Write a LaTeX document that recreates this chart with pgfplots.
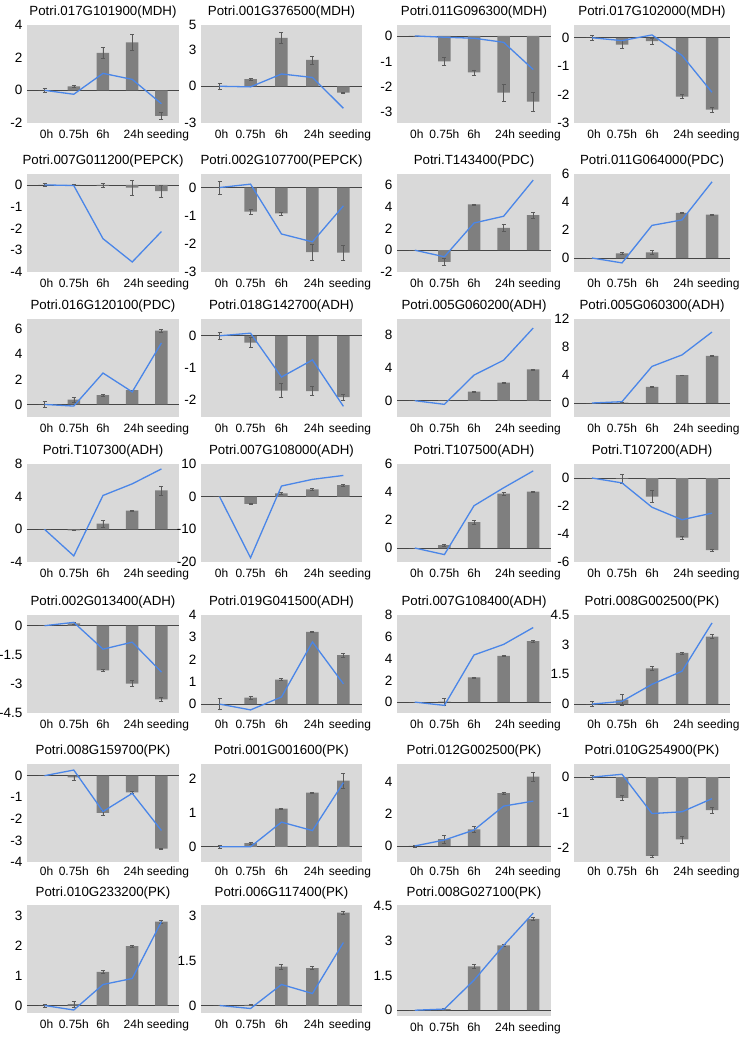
\documentclass[border=0pt]{standalone}
\usepackage{fontspec}
\setmainfont{Liberation Sans}
\usepackage{pgfplots}
\usepackage{pgfplotstable}
\pgfplotsset{compat=1.18}
\definecolor{bg}{RGB}{217,217,217}
\definecolor{barc}{RGB}{127,127,127}
\definecolor{lnc}{RGB}{74,134,232}
\definecolor{zl}{RGB}{70,70,70}
\definecolor{erc}{RGB}{90,90,90}

% columns: x y(bar) e(error) l(line)
\pgfplotstableread{
x y e l
0 0 0.1 0
1 0.24 0.05 -0.24
2 2.3 0.33 1.04
3 2.94 0.49 0.67
4 -1.57 0.22 -0.82
}\dA
\pgfplotstableread{
x y e l
0 0 0.25 0
1 0.58 0.05 -0.05
2 3.95 0.45 1.0
3 2.15 0.33 0.72
4 -0.52 0.05 -1.8
}\dB
\pgfplotstableread{
x y e l
0 0 0 0
1 -1.0 0.16 -0.05
2 -1.43 0.1 -0.09
3 -2.23 0.32 -0.25
4 -2.58 0.37 -1.32
}\dC
\pgfplotstableread{
x y e l
0 0 0.09 0
1 -0.24 0.14 -0.1
2 -0.12 0.12 0.1
3 -2.07 0.07 -0.62
4 -2.53 0.08 -1.92
}\dD
\pgfplotstableread{
x y e l
0 0 0.08 0
1 -0.01 0.02 -0.03
2 -0.03 0.1 -2.47
3 -0.13 0.35 -3.54
4 -0.29 0.28 -2.14
}\dE
\pgfplotstableread{
x y e l
0 0 0.23 0
1 -0.86 0.08 0.12
2 -0.92 0.05 -1.65
3 -2.29 0.28 -1.93
4 -2.31 0.26 -0.65
}\dF
\pgfplotstableread{
x y e l
0 0 0 0
1 -1.07 0.3 -0.6
2 4.21 0.05 2.5
3 2.05 0.33 3.12
4 3.23 0.25 6.44
}\dG
\pgfplotstableread{
x y e l
0 0 0 0
1 0.33 0.05 -0.35
2 0.4 0.12 2.33
3 3.23 0.04 2.72
4 3.09 0.05 5.44
}\dH
\pgfplotstableread{
x y e l
0 0 0.25 0
1 0.39 0.2 -0.13
2 0.74 0.06 2.5
3 1.13 0.03 1.0
4 5.87 0.1 4.9
}\dI
\pgfplotstableread{
x y e l
0 0 0.1 0
1 -0.21 0.15 0.08
2 -1.7 0.22 -1.28
3 -1.72 0.14 -0.75
4 -1.9 0.09 -2.19
}\dJ
\pgfplotstableread{
x y e l
0 0 0 0
1 0.05 0.05 -0.45
2 1.1 0.05 3.13
3 2.2 0.1 4.96
4 3.82 0.08 8.9
}\dK
\pgfplotstableread{
x y e l
0 0 0 0
1 0.05 0.03 0.19
2 2.29 0.1 5.23
3 3.97 0.05 6.87
4 6.73 0.08 10.14
}\dL
\pgfplotstableread{
x y e l
0 0 0 0
1 -0.12 0.05 -3.25
2 0.69 0.45 4.15
3 2.28 0.05 5.57
4 4.76 0.55 7.4
}\dM
\pgfplotstableread{
x y e l
0 0 0 0
1 -2.24 0.2 -18.7
2 1.0 0.3 3.26
3 2.24 0.3 5.3
4 3.56 0.25 6.5
}\dN
\pgfplotstableread{
x y e l
0 0 0 0
1 0.2 0.05 -0.47
2 1.84 0.15 3.02
3 3.88 0.1 4.3
4 4.02 0.04 5.51
}\dO
\pgfplotstableread{
x y e l
0 0 0 0
1 -0.05 0.35 -0.35
2 -1.33 0.43 -2.09
3 -4.26 0.1 -2.98
4 -5.16 0.1 -2.51
}\dP
\pgfplotstableread{
x y e l
0 0 0 0
1 0.12 0.04 0.17
2 -2.3 0.06 -1.21
3 -2.98 0.15 -0.85
4 -3.8 0.1 -2.39
}\dQ
\pgfplotstableread{
x y e l
0 0 0.25 0
1 0.29 0.08 -0.26
2 1.1 0.05 0.32
3 3.24 0.03 2.79
4 2.2 0.1 0.91
}\dR
\pgfplotstableread{
x y e l
0 0 0 0
1 0.05 0.3 -0.3
2 2.27 0.05 4.33
3 4.24 0.05 5.3
4 5.6 0.1 6.85
}\dS
\pgfplotstableread{
x y e l
0 0 0.12 0
1 0.22 0.27 0.14
2 1.81 0.1 1.0
3 2.59 0.05 1.66
4 3.41 0.1 4.1
}\dT
\pgfplotstableread{
x y e l
0 0 0 0
1 -0.08 0.12 0.26
2 -1.72 0.1 -1.66
3 -0.77 0.05 -0.82
4 -3.38 0.02 -2.54
}\dU
\pgfplotstableread{
x y e l
0 0 0.05 0
1 0.11 0.02 0
2 1.13 0.02 0.73
3 1.6 0.02 0.48
4 1.96 0.22 1.9
}\dV
\pgfplotstableread{
x y e l
0 0 0.07 0
1 0.43 0.25 0.37
2 1.03 0.2 0.99
3 3.29 0.05 2.48
4 4.31 0.27 2.79
}\dW
\pgfplotstableread{
x y e l
0 0 0.05 0
1 -0.59 0.07 0.08
2 -2.23 0.03 -1.03
3 -1.76 0.1 -0.98
4 -0.93 0.08 -0.61
}\dX
\pgfplotstableread{
x y e l
0 0 0.05 0
1 0.05 0.1 -0.15
2 1.12 0.05 0.7
3 1.98 0.03 0.9
4 2.8 0.05 2.8
}\dY
\pgfplotstableread{
x y e l
0 0 0 0
1 0.02 0.02 -0.1
2 1.3 0.08 0.7
3 1.25 0.05 0.4
4 3.1 0.05 2.1
}\dZ
\pgfplotstableread{
x y e l
0 0 0 0
1 0.05 0.03 0.05
2 1.9 0.08 1.3
3 2.8 0.05 2.8
4 3.95 0.08 4.2
}\dAA

\pgfplotsset{
 panel/.style={
  scale only axis, anchor=north west,
  height=98pt,
  axis background/.style={fill=bg},
  axis line style={draw=none},
  major tick length=0pt,
  xmin=-0.6, xmax=4.6,
  xtick={0,1,2,3,4},
  xticklabels={\hspace*{4pt}0h,0.75h,6h,\hspace*{3pt}24h,\hspace*{13pt}seeding},
  xticklabel style={font=\fontsize{12}{14}\selectfont, yshift=-3pt},
  yticklabel style={font=\fontsize{13.5}{15}\selectfont, xshift=-1pt},
  /pgf/number format/assume math mode=true,
  title style={font=\fontsize{13.3}{15}\selectfont, yshift=-3pt},
  extra y ticks={0}, extra y tick labels={},
  extra y tick style={grid=major, major grid style={zl, line width=0.7pt}},
 },
 c1/.style={width=152pt},
 c2/.style={width=161pt},
 c3/.style={width=154pt},
 c4/.style={width=156pt},
 r6/.style={xticklabel style={yshift=2pt}},
 r7/.style={title style={yshift=-1pt}},
}
\newcommand{\series}[1]{%
  \addplot[ybar, bar width=12.5pt, fill=barc, draw=none,
    error bars/.cd, y dir=both, y explicit,
    error bar style={erc, line width=0.5pt},
    error mark options={rotate=90, erc, mark size=2pt, line width=0.5pt}]
    table[x=x, y=y, y error=e] {#1};
  \addplot[lnc, line width=1.3pt, mark=none] table[x=x, y=l] {#1};
}

\begin{document}
\begin{tikzpicture}
\useasboundingbox (0,0) rectangle (743pt,-1039pt);
% Row 1
\begin{axis}[panel, c1, at={(27pt,-25pt)}, title={Potri.017G101900(MDH)}, ymin=-2, ymax=4, ytick={-2,0,2,4}]
\series{\dA}
\end{axis}
\begin{axis}[panel, c2, at={(201pt,-25pt)}, title={Potri.001G376500(MDH)}, ymin=-3, ymax=5, ytick={-3,0,3,5}]
\series{\dB}
\end{axis}
\begin{axis}[panel, c3, at={(397pt,-25pt)}, title={Potri.011G096300(MDH)}, ymin=-3.42, ymax=0.43, ytick={-3,-2,-1,0}]
\series{\dC}
\end{axis}
\begin{axis}[panel, c4, at={(574pt,-25pt)}, title={Potri.017G102000(MDH)}, ymin=-3, ymax=0.45, ytick={-3,-2,-1,0}]
\series{\dD}
\end{axis}
% Row 2
\begin{axis}[panel, c1, at={(27pt,-174pt)}, title={Potri.007G011200(PEPCK)}, ymin=-4, ymax=0.5, ytick={-4,-3,-2,-1,0}]
\series{\dE}
\end{axis}
\begin{axis}[panel, c2, at={(201pt,-174pt)}, title={Potri.002G107700(PEPCK)}, ymin=-3, ymax=0.48, ytick={-3,-2,-1,0}]
\series{\dF}
\end{axis}
\begin{axis}[panel, c3, at={(397pt,-174pt)}, title={Potri.T143400(PDC)}, ymin=-2, ymax=7, ytick={-2,0,2,4,6}]
\series{\dG}
\end{axis}
\begin{axis}[panel, c4, at={(574pt,-174pt)}, title={Potri.011G064000(PDC)}, ymin=-1, ymax=6, ytick={0,2,4,6}]
\series{\dH}
\end{axis}
% Row 3
\begin{axis}[panel, c1, at={(27pt,-319pt)}, title={Potri.016G120100(PDC)}, ymin=-1, ymax=6.8, ytick={0,2,4,6}]
\series{\dI}
\end{axis}
\begin{axis}[panel, c2, at={(201pt,-319pt)}, title={Potri.018G142700(ADH)}, ymin=-2.52, ymax=0.52, ytick={-2,-1,0}]
\series{\dJ}
\end{axis}
\begin{axis}[panel, c3, at={(397pt,-319pt)}, title={Potri.005G060200(ADH)}, ymin=-2, ymax=10, ytick={0,4,8}]
\series{\dK}
\end{axis}
\begin{axis}[panel, c4, at={(574pt,-319pt)}, title={Potri.005G060300(ADH)}, ymin=-2, ymax=12, ytick={0,4,8,12}]
\series{\dL}
\end{axis}
% Row 4
\begin{axis}[panel, c1, at={(27pt,-464pt)}, title={Potri.T107300(ADH)}, ymin=-4, ymax=8, ytick={-4,0,4,8}]
\series{\dM}
\end{axis}
\begin{axis}[panel, c2, at={(201pt,-464pt)}, title={Potri.007G108000(ADH)}, ymin=-20, ymax=10, ytick={-20,-10,0,10}]
\series{\dN}
\end{axis}
\begin{axis}[panel, c3, at={(397pt,-464pt)}, title={Potri.T107500(ADH)}, ymin=-1, ymax=6, ytick={0,2,4,6}]
\series{\dO}
\end{axis}
\begin{axis}[panel, c4, at={(574pt,-464pt)}, title={Potri.T107200(ADH)}, ymin=-6, ymax=1, ytick={-6,-4,-2,0}]
\series{\dP}
\end{axis}
% Row 5
\begin{axis}[panel, c1, at={(27pt,-615pt)}, title={Potri.002G013400(ADH)}, ymin=-4.5, ymax=0.55, ytick={-4.5,-3,-1.5,0}]
\series{\dQ}
\end{axis}
\begin{axis}[panel, c2, at={(201pt,-615pt)}, title={Potri.019G041500(ADH)}, ymin=-0.4, ymax=4, ytick={0,1,2,3,4}]
\series{\dR}
\end{axis}
\begin{axis}[panel, c3, at={(397pt,-615pt)}, title={Potri.007G108400(ADH)}, ymin=-1, ymax=8, ytick={0,2,4,6,8}]
\series{\dS}
\end{axis}
\begin{axis}[panel, c4, at={(574pt,-615pt)}, title={Potri.008G002500(PK)}, ymin=-0.45, ymax=4.5, ytick={0,1.5,3,4.5}]
\series{\dT}
\end{axis}
% Row 6
\begin{axis}[panel, r6, c1, at={(27pt,-764pt)}, title={Potri.008G159700(PK)}, ymin=-4, ymax=0.54, ytick={-4,-3,-2,-1,0}]
\series{\dU}
\end{axis}
\begin{axis}[panel, r6, c2, at={(201pt,-764pt)}, title={Potri.001G001600(PK)}, ymin=-0.45, ymax=2.45, ytick={0,1,2}]
\series{\dV}
\end{axis}
\begin{axis}[panel, r6, c3, at={(397pt,-764pt)}, title={Potri.012G002500(PK)}, ymin=-1, ymax=5.1, ytick={0,2,4}]
\series{\dW}
\end{axis}
\begin{axis}[panel, r6, c4, at={(574pt,-764pt)}, title={Potri.010G254900(PK)}, ymin=-2.4, ymax=0.37, ytick={-2,-1,0}]
\series{\dX}
\end{axis}
% Row 7
\begin{axis}[panel, r7, c1, at={(27pt,-905pt)}, height=108pt, title={Potri.010G233200(PK)}, ymin=-0.25, ymax=3.35, ytick={0,1,2,3}]
\series{\dY}
\end{axis}
\begin{axis}[panel, r7, c2, at={(201pt,-905pt)}, height=108pt, title={Potri.006G117400(PK)}, ymin=-0.25, ymax=3.35, ytick={0,1.5,3}]
\series{\dZ}
\end{axis}
\begin{axis}[panel, r7, c3, at={(397pt,-905pt)}, height=111pt, title={Potri.008G027100(PK)}, ymin=-0.25, ymax=4.55, ytick={0,1.5,3,4.5}]
\series{\dAA}
\end{axis}
\end{tikzpicture}
\end{document}
